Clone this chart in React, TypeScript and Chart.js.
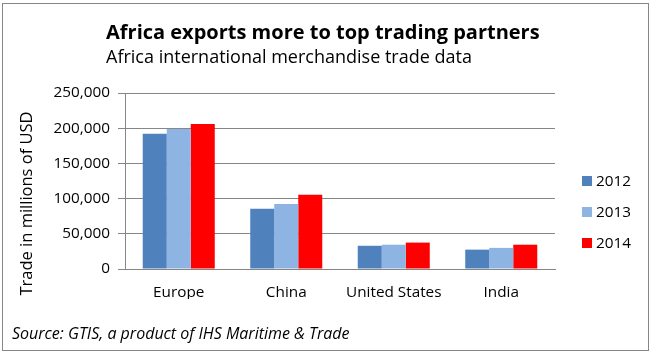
import React, { useEffect, useRef } from "react";
import { Chart, registerables } from "chart.js";

Chart.register(...registerables);

const categories = ["Europe", "China", "United States", "India"];
const seriesLabels = ["2012", "2013", "2014"];
const values2012 = [192000, 85500, 33000, 27500];
const values2013 = [199000, 92500, 34500, 30000];
const values2014 = [206000, 105500, 37500, 34500];
const seriesColors = ["#4F81BD", "#8EB4E3", "#FF0000"];
const yMax = 250000;
const yStep = 50000;

const titleText = "Africa exports more to top trading partners";
const subtitleText = "Africa international merchandise trade data";
const yTitleText = "Trade in millions of USD";
const sourceText = "Source: GTIS, a product of IHS Maritime & Trade";

const FONT = "'Open Sans', Lato, sans-serif";
const GRAY = "#868686";

const decorPlugin = {
  id: "decor",
  afterDraw(chart: any) {
    const ctx = chart.ctx as CanvasRenderingContext2D;
    ctx.save();
    // border
    ctx.strokeStyle = GRAY;
    ctx.lineWidth = 1;
    ctx.strokeRect(2.5, 3.5, 646, 347);
    ctx.fillStyle = "#000";
    ctx.textAlign = "left";
    ctx.textBaseline = "alphabetic";
    ctx.font = `bold 20px ${FONT}`;
    ctx.fillText(titleText, 106, 39);
    ctx.font = `18px ${FONT}`;
    ctx.fillText(subtitleText, 106, 63);
    ctx.font = `italic 16px ${FONT}`;
    ctx.fillText(sourceText, 12, 339);
    // y title
    ctx.save();
    ctx.translate(27, 203.5);
    ctx.rotate(-Math.PI / 2);
    ctx.textAlign = "center";
    ctx.textBaseline = "middle";
    ctx.font = `16.5px ${FONT}`;
    ctx.fillText(yTitleText, 0, 0);
    ctx.restore();
    // legend
    const ys = [180.7, 211.7, 242.7];
    chart.data.datasets.forEach((ds: any, i: number) => {
      ctx.fillStyle = ds.backgroundColor;
      ctx.fillRect(582, Math.round(ys[i] - 5), 10, 10);
      ctx.fillStyle = "#000";
      ctx.font = `15.3px ${FONT}`;
      ctx.textBaseline = "middle";
      ctx.fillText(ds.label, 596, ys[i] + 0.5);
    });
    ctx.restore();
  },
};

export default function App() {
  const ref = useRef<HTMLCanvasElement>(null);
  useEffect(() => {
    document.body.style.margin = "0";
    const chart = new Chart(ref.current!, {
      type: "bar",
      data: {
        labels: categories,
        datasets: [values2012, values2013, values2014].map((v, i) => ({
          label: seriesLabels[i],
          data: v,
          backgroundColor: seriesColors[i],
          borderWidth: 0,
          barPercentage: 1,
          categoryPercentage: 0.67,
        })),
      },
      options: {
        responsive: false,
        animation: false,
        devicePixelRatio: 1,
        layout: { padding: { left: 0, right: 96, top: 93, bottom: 54 } },
        plugins: {
          legend: { display: false },
          title: { display: false },
          tooltip: { enabled: false },
        },
        scales: {
          x: {
            grid: { display: false, drawTicks: false },
            border: { display: true, color: GRAY, width: 1 },
            ticks: { color: "#000", padding: 14, font: { family: FONT, size: 15.3 } },
            afterFit: (s: any) => { s.height = 30; },
          },
          y: {
            min: 0,
            max: yMax,
            grid: { color: GRAY, tickLength: 7, drawTicks: true },
            border: { display: true, color: GRAY, width: 1 },
            ticks: {
              stepSize: yStep,
              color: "#000",
              padding: 8,
              font: { family: FONT, size: 15.3 },
              callback: (v: any) => Number(v).toLocaleString("en-US"),
            },
            afterFit: (s: any) => { s.width = 125; },
          },
        },
      },
      plugins: [decorPlugin],
    });
    return () => chart.destroy();
  }, []);
  return (
    <div style={{ position: "fixed", left: 0, top: 0, width: 651, height: 353, background: "#fff" }}>
      <canvas ref={ref} width={651} height={353} />
    </div>
  );
}
